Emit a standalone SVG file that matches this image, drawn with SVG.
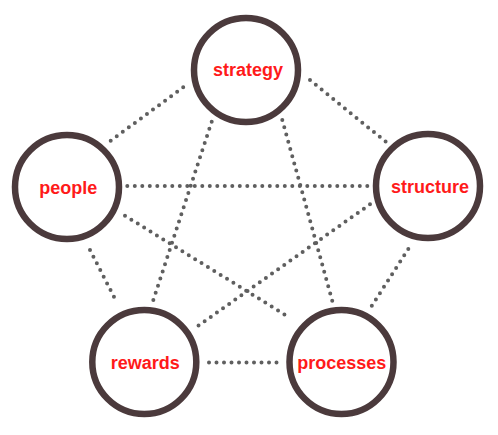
<svg xmlns="http://www.w3.org/2000/svg" width="498" height="435" viewBox="0 0 498 435">
<style>
.c{fill:#fff;stroke:#4b3a3c;stroke-width:6.5}
.t{font-family:"Liberation Sans",Arial,sans-serif;font-weight:bold;font-size:18px;fill:#ff1a1a;text-anchor:middle}
.l{stroke:#5f5f5f;stroke-width:4;stroke-linecap:round;stroke-dasharray:0 7.5;fill:none}
</style>
<rect width="498" height="435" fill="#fff"/>
<g id="connectors">
<line class="l" x1="110.7" y1="140.7" x2="183.3" y2="87.3"/>
<line class="l" x1="310" y1="80" x2="385.7" y2="141.7"/>
<line class="l" x1="127.3" y1="186" x2="368.3" y2="186"/>
<line class="l" x1="211.7" y1="121.7" x2="153.3" y2="300"/>
<line class="l" x1="282.3" y1="120" x2="332.3" y2="301"/>
<line class="l" x1="125" y1="215.7" x2="290.7" y2="318.3"/>
<line class="l" x1="370" y1="204.3" x2="198.3" y2="325.7"/>
<line class="l" x1="90" y1="250" x2="117.3" y2="303.3"/>
<line class="l" x1="408.3" y1="249" x2="371.7" y2="306"/>
<line class="l" x1="209" y1="362.5" x2="277" y2="362.5"/>
</g>
<g id="strategy"><circle class="c" cx="246" cy="70" r="52"/><text class="t" x="248" y="76">strategy</text></g>
<g id="people"><circle class="c" cx="67" cy="187" r="52"/><text class="t" x="68.3" y="194">people</text></g>
<g id="structure"><circle class="c" cx="428" cy="186" r="52"/><text class="t" x="430" y="193">structure</text></g>
<g id="rewards"><circle class="c" cx="144.3" cy="362" r="52"/><text class="t" x="145.3" y="369">rewards</text></g>
<g id="processes"><circle class="c" cx="341.5" cy="362" r="52"/><text class="t" x="341.7" y="369">processes</text></g>
</svg>
